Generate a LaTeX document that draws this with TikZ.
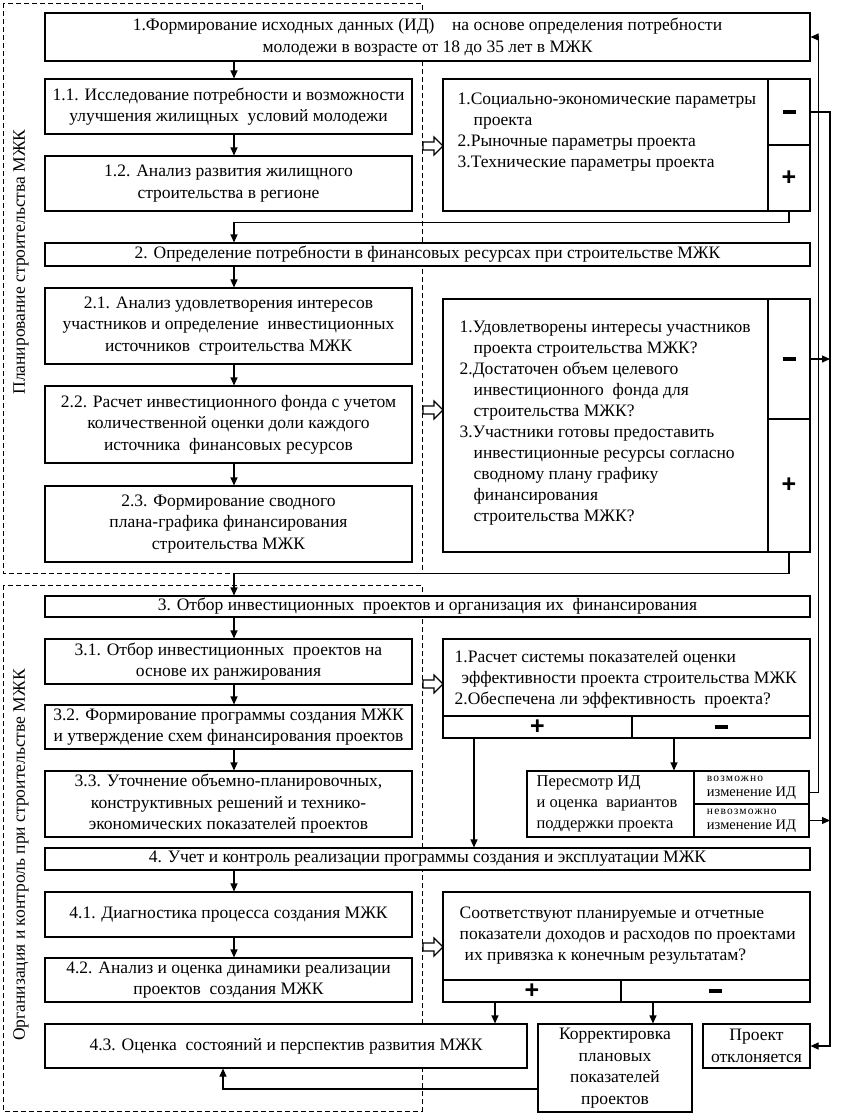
\documentclass[tikz,border=0pt]{standalone}
\usepackage{fontspec}
\setmainfont{Liberation Serif}
\newfontfamily\signfont{Liberation Sans}
\newfontfamily\spacedfont{Liberation Serif}[LetterSpace=10]
\usetikzlibrary{arrows.meta,positioning}
\newcommand\minusmark{\rule{13pt}{3.6pt}}
\newcommand\bodysize{\fontsize{17.5}{21.5}\selectfont}

\begin{document}
\begin{tikzpicture}[x=1pt,y=-1pt,
    box/.style={draw, line width=1.1pt, fill=white, align=center, inner sep=1pt, font=\bodysize},
    panel/.style={draw, line width=1.1pt, fill=white},
    ptext/.style={align=left, inner sep=0pt, anchor=north west, font=\fontsize{17.5}{21}\selectfont},
    sign/.style={draw, line width=1.1pt, fill=white, inner sep=0pt, font=\signfont\bfseries\fontsize{25}{25}\selectfont},
    small/.style={draw, line width=1.1pt, fill=white, align=left, inner sep=0pt},
    arr/.style={line width=1.1pt, -{Triangle[length=8pt,width=7pt]}},
    region/.style={line width=1pt, dash pattern=on 5pt off 3pt},
    hollow/.style={line width=1.1pt, fill=white, line join=miter}]
  \useasboundingbox (0,0) rectangle (843,1114);
  \coordinate (colx) at (234,0);
  \coordinate (rbus) at (830,0);

  % dashed stages
  \draw[region] (3,3) rectangle (422,573);
  \draw[region] (3,585) rectangle (422,1111);
  \node[rotate=90, font=\fontsize{17.5}{17.5}\selectfont] (lblPlan) at (21,262) {Планирование строительства МЖК};
  \node[rotate=90, font=\fontsize{17.5}{17.5}\selectfont] (lblOrg) at (21,855) {Организация и контроль при строительстве МЖК};

  % stage 1
  \node[box, minimum width=765pt, minimum height=48pt] (b1) at (427.5,37) {1.Формирование исходных данных (ИД)\quad на основе определения потребности\\молодежи в возрасте от 18 до 35 лет в МЖК};
  \node[box, minimum width=367pt, minimum height=55pt] (b11) at (228.5,106.5) {1.1. Исследование потребности и возможности\\улучшения жилищных\ \ условий молодежи};
  \node[box, minimum width=367pt, minimum height=55pt] (b12) at (228.5,183.5) {1.2. Анализ развития жилищного\\строительства в регионе};
  \node[panel, minimum width=325pt, minimum height=132pt] (pA) at (605.5,145) {};
  \node[ptext] (tA) at ([shift={(15,14)}]pA.north west) {1.Социально-экономические параметры\\\hspace{16pt}проекта\\2.Рыночные параметры проекта\\3.Технические параметры проекта};
  \node[sign, minimum width=42pt, minimum height=66pt] (pAm) at (789,112) {\minusmark};
  \node[sign, minimum width=42pt, minimum height=66pt] (pAp) at (789,178) {+};

  % stage 2
  \node[box, minimum width=765pt, minimum height=23pt] (b2) at (427.5,254.5) {2. Определение потребности в финансовых ресурсах при строительстве МЖК};
  \node[box, minimum width=367pt, minimum height=76pt] (b21) at (228.5,326) {2.1. Анализ удовлетворения интересов\\участников и определение\ \ инвестиционных\\источников\ \ строительства МЖК};
  \node[box, minimum width=367pt, minimum height=77pt] (b22) at (228.5,424.5) {2.2. Расчет инвестиционного фонда с учетом\\количественной оценки доли каждого\\источника\ \ финансовых ресурсов};
  \node[box, minimum width=367pt, minimum height=76pt] (b23) at (228.5,524) {2.3. Формирование сводного\\плана-графика финансирования\\строительства МЖК};
  \node[panel, minimum width=325pt, minimum height=253pt] (pB) at (605.5,425.5) {};
  \node[ptext] (tB) at ([shift={(17,22)}]pB.north west) {1.Удовлетворены интересы участников\\\hspace{14pt}проекта строительства МЖК?\\2.Достаточен объем целевого\\\hspace{14pt}инвестиционного\ \ фонда для\\\hspace{14pt}строительства МЖК?\\3.Участники готовы предоставить\\\hspace{14pt}инвестиционные ресурсы согласно\\\hspace{14pt}сводному плану графику\\\hspace{14pt}финансирования\\\hspace{14pt}строительства МЖК?};
  \node[sign, minimum width=42pt, minimum height=120pt] (pBm) at (789,359) {\minusmark};
  \node[sign, minimum width=42pt, minimum height=133pt] (pBp) at (789,485.5) {+};

  % stage 3
  \node[box, minimum width=765pt, minimum height=21pt] (b3) at (427.5,606.5) {3. Отбор инвестиционных\ \ проектов и организация их\ \ финансирования};
  \node[box, minimum width=367pt, minimum height=45pt] (b31) at (228.5,661.5) {3.1. Отбор инвестиционных\ \ проектов на\\основе их ранжирования};
  \node[box, minimum width=367pt, minimum height=44pt] (b32) at (228.5,727) {3.2. Формирование программы создания МЖК\\и утверждение схем финансирования проектов};
  \node[box, minimum width=367pt, minimum height=66pt] (b33) at (228.5,804) {3.3. Уточнение объемно-планировочных,\\конструктивных решений и технико-\\экономических показателей проектов};
  \node[panel, minimum width=367pt, minimum height=77pt] (pC) at (626.5,677.5) {};
  \node[ptext] (tC) at ([shift={(12,12)}]pC.north west) {1.Расчет системы показателей оценки\\\hspace{7pt}эффективности проекта строительства МЖК\\2.Обеспечена ли эффективность\ \ проекта?};
  \node[sign, minimum width=189pt, minimum height=22pt] (pCp) at (537.5,727) {+};
  \node[sign, minimum width=178pt, minimum height=22pt] (pCm) at (721,727) {\minusmark};
  \node[panel, minimum width=167pt, minimum height=66pt] (pD) at (610.5,804) {};
  \node[ptext, anchor=west, font=\fontsize{16.5}{21}\selectfont] (tD) at ([xshift=10pt]pD.west) {Пересмотр ИД\\и оценка\ \ вариантов\\поддержки проекта};
  \node[small, minimum width=115pt, minimum height=33pt] (pDy) at (751.5,787.5) {\spacedfont\fontsize{11.5}{11.5}\selectfont возможно\\[3pt]\rmfamily\fontsize{14.5}{14.5}\selectfont изменение ИД};
  \node[small, minimum width=115pt, minimum height=33pt] (pDn) at (751.5,820.5) {\spacedfont\fontsize{11.5}{11.5}\selectfont невозможно\\[3pt]\rmfamily\fontsize{14.5}{14.5}\selectfont изменение ИД};

  % stage 4
  \node[box, minimum width=765pt, minimum height=22pt] (b4) at (427.5,859) {4. Учет и контроль реализации программы создания и эксплуатации МЖК};
  \node[box, minimum width=367pt, minimum height=45pt] (b41) at (228.5,914.5) {4.1. Диагностика процесса создания МЖК};
  \node[box, minimum width=367pt, minimum height=44pt] (b42) at (228.5,980) {4.2. Анализ и оценка динамики реализации\\проектов\ \ создания МЖК};
  \node[box, minimum width=482pt, minimum height=44pt] (b43) at (286,1046) {4.3. Оценка\ \ состояний и перспектив развития МЖК};
  \node[panel, minimum width=367pt, minimum height=88pt] (pE) at (626.5,936) {};
  \node[ptext] (tE) at ([shift={(17,15)}]pE.north west) {Соответствуют планируемые и отчетные\\показатели доходов и расходов по проектами\\\hspace{5pt}их привязка к конечным результатам?};
  \node[sign, minimum width=178pt, minimum height=22pt] (pEp) at (532,991) {+};
  \node[sign, minimum width=189pt, minimum height=22pt] (pEm) at (715.5,991) {\minusmark};
  \node[box, minimum width=154pt, minimum height=88pt] (pK) at (615,1068) {Корректировка\\плановых\\показателей\\проектов};
  \node[box, minimum width=107pt, minimum height=44pt] (pR) at (756.5,1046) {Проект\\отклоняется};

  % connectors
  \foreach \a/\b in {b1/b11, b11/b12, b2/b21, b21/b22, b22/b23, b3/b31, b31/b32, b32/b33, b4/b41, b41/b42}
    \draw[arr] (\a.south -| colx) -- (\b.north -| colx);
  \draw[arr] (pAp.south) -- ++(0,11) -| (b2.north -| colx);
  \draw[arr] (pBp.south) -- ++(0,21) -| (b3.north -| colx);
  \draw[arr] ([xshift=-63.5pt]pCp.south) coordinate (cplus) -- (cplus |- b4.north);
  \draw[arr] ([xshift=-47pt]pCm.south) coordinate (cminus) -- (cminus |- pD.north);
  \draw[arr] ([yshift=-5pt]pDy.east) -- ++(9,0) |- (b1.east);
  \draw[arr] (pAm.east) -- (pAm.east -| rbus) |- (pR.east);
  \draw[arr] (pBm.east) -- (pBm.east -| rbus);
  \draw[arr] (pDn.east) -- (pDn.east -| rbus);
  \draw[arr] ([xshift=-37pt]pEp.south) coordinate (eplus) -- (eplus |- b43.north);
  \draw[arr] ([xshift=-62.5pt]pEm.south) coordinate (eminus) -- (eminus |- pK.north);
  \draw[arr] ([yshift=-21pt]pK.west) -| ([xshift=-63pt]b43.south);

  % hollow arrows to the check panels
  \foreach \y in {146,410,684,947}
    \draw[hollow] (423,\y-4) -- (434,\y-4) -- (434,\y-9) -- (443,\y) -- (434,\y+9) -- (434,\y+4) -- (423,\y+4) -- cycle;
\end{tikzpicture}
\end{document}
